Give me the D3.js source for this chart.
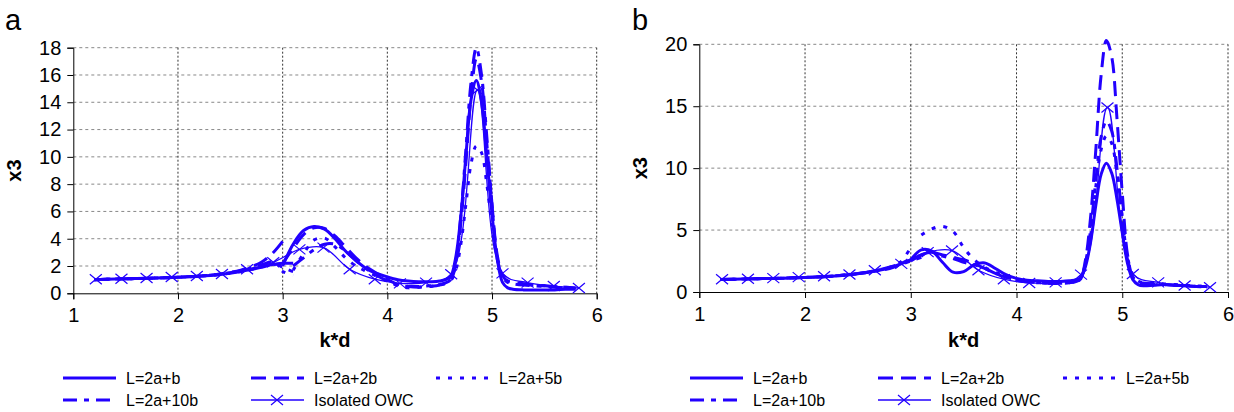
<!DOCTYPE html>
<html>
<head>
<meta charset="utf-8">
<script src="https://cdn.jsdelivr.net/npm/d3@7"></script>
<style>
  body { margin: 0; background: #fff; }
  svg text { font-family: "Liberation Sans", Arial, sans-serif; fill: #000; }
</style>
</head>
<body>
<svg id="chart" width="1234" height="412"></svg>
<script>
// DATA
// k*d grids: low branch and high branch of the computation
const kLow = [1.2, 1.4, 1.6, 1.8, 2.0, 2.2, 2.4, 2.6, 2.7, 2.8, 2.9, 3.0, 3.1];
const kHigh = [3.0, 3.1, 3.2, 3.3, 3.4, 3.5, 3.6, 3.7, 3.8, 3.9, 4.0, 4.1, 4.2, 4.3, 4.4, 4.5, 4.6, 4.65,
  4.7, 4.75, 4.8, 4.85, 4.9, 4.95, 5.0, 5.05, 5.1, 5.15, 5.2, 5.3, 5.4, 5.5, 5.6, 5.7, 5.8];

// isolated OWC (marker points, same in both panels)
const kIso = [1.215, 1.46, 1.70, 1.94, 2.18, 2.42, 2.66, 2.91, 3.16, 3.39, 3.64, 3.88, 4.12, 4.37, 4.61, 4.86, 5.10, 5.34, 5.59, 5.83];
const isoVals = [1.03, 1.07, 1.12, 1.2, 1.27, 1.41, 1.76, 2.27, 3.22, 3.35, 1.76, 1.03, 0.73, 0.78, 1.4, 14.9, 1.46, 0.78, 0.53, 0.39];

// panel a
const aL1Low = [1.0, 1.05, 1.08, 1.12, 1.18, 1.25, 1.38, 1.6, 1.75, 1.9, 2.1, 2.2, 2.2];
const aL1High = [2.0, 3.6, 4.6, 4.9, 4.7, 4.0, 3.1, 2.4, 1.8, 1.45, 1.2, 1.0, 0.9, 0.85, 0.85, 0.9, 1.2, 2.5,
  5.5, 10.0, 14.2, 15.6, 14.0, 10.0, 5.8, 2.5, 0.8, 0.4, 0.3, 0.25, 0.25, 0.25, 0.25, 0.3, 0.3];
const aL2Low = [1.0, 1.05, 1.08, 1.12, 1.18, 1.26, 1.42, 1.7, 1.95, 2.3, 2.9, 3.8, null];
const aL2High = [2.2, 3.3, 4.3, 4.8, 4.75, 4.2, 3.4, 2.6, 1.95, 1.45, 1.0, 0.65, 0.5, 0.45, 0.5, 0.6, 0.9, 2.0,
  5.0, 9.5, 14.5, 17.2, 15.5, 11.0, 6.5, 2.8, 1.3, 0.9, 0.8, 0.7, 0.6, 0.55, 0.5, 0.45, 0.4];
const aL5Low = [1.0, 1.05, 1.08, 1.12, 1.18, 1.25, 1.38, 1.6, 1.75, 1.95, 2.2, 1.6, 1.3];
const aL5High = [null, 1.7, 2.9, 3.9, 4.05, 3.4, 2.6, 2.0, 1.6, 1.25, 0.9, 0.55, 0.4, 0.45, 0.5, 0.6, 0.9, 1.6,
  3.5, 6.5, 9.5, 10.8, 10.3, 8.0, 5.0, 2.5, 1.3, 0.9, 0.75, 0.65, 0.6, 0.55, 0.5, 0.45, 0.4];
const aL10Low = [1.0, 1.05, 1.08, 1.12, 1.18, 1.25, 1.4, 1.65, 1.85, 2.1, 2.3, 1.9, 1.6];
const aL10High = [null, 2.0, 2.6, 3.2, 3.6, 3.6, 3.1, 2.4, 1.8, 1.3, 0.9, 0.6, 0.5, 0.5, 0.55, 0.65, 0.95, 2.2,
  5.5, 10.5, 15.5, 18.0, 16.0, 11.5, 6.5, 2.6, 1.2, 0.8, 0.7, 0.6, 0.55, 0.5, 0.45, 0.4, 0.35];

// panel b
const bL1Low = [1.0, 1.05, 1.08, 1.12, 1.18, 1.25, 1.38, 1.6, 1.75, 1.95, 2.25, 2.6, 3.0];
const bL1High = [2.6, 3.4, 3.3, 2.4, 1.6, 1.65, 2.2, 2.35, 1.9, 1.4, 1.1, 0.95, 0.9, 0.85, 0.85, 0.9, 1.1, 2.0,
  4.0, 7.0, 9.5, 10.4, 9.6, 7.5, 4.8, 2.3, 1.0, 0.6, 0.5, 0.55, 0.6, 0.55, 0.5, 0.45, 0.45];
const bL2Low = [1.0, 1.05, 1.08, 1.12, 1.18, 1.25, 1.4, 1.62, 1.8, 2.0, 2.3, 2.6, null];
const bL2High = [2.5, 3.0, 3.2, 3.0, 2.8, 2.6, 2.3, 1.9, 1.5, 1.2, 1.0, 0.85, 0.75, 0.7, 0.7, 0.75, 1.0, 2.5,
  6.0, 11.5, 17.5, 20.3, 19.0, 14.0, 8.0, 3.0, 1.2, 0.8, 0.7, 0.65, 0.6, 0.55, 0.5, 0.45, 0.4];
const bL5Low = [1.0, 1.05, 1.08, 1.12, 1.18, 1.25, 1.38, 1.6, 1.78, 2.0, 2.4, 3.6, null];
const bL5High = [null, 4.6, 5.1, 5.3, 4.9, 3.6, 2.6, 2.0, 1.6, 1.25, 1.0, 0.85, 0.8, 0.75, 0.75, 0.8, 1.0, 2.2,
  4.5, 8.5, 11.5, 12.6, 12.0, 9.5, 6.0, 2.8, 1.4, 0.9, 0.75, 0.7, 0.65, 0.6, 0.55, 0.5, 0.45];
const bL10Low = [1.0, 1.05, 1.08, 1.12, 1.18, 1.25, 1.4, 1.6, 1.75, 1.9, 2.2, 2.5, 2.8];
const bL10High = [null, 3.0, 3.2, 2.9, 2.7, 2.4, 2.2, 1.9, 1.5, 1.2, 0.95, 0.8, 0.75, 0.7, 0.7, 0.75, 1.0, 2.3,
  5.0, 9.0, 12.5, 13.8, 13.0, 10.0, 6.0, 2.6, 1.2, 0.8, 0.7, 0.65, 0.6, 0.55, 0.5, 0.45, 0.4];

const seriesNames = ["L=2a+b", "L=2a+2b", "L=2a+5b", "L=2a+10b", "Isolated OWC"];
const xTicks = [1, 2, 3, 4, 5, 6];
const yTicksA = [0, 2, 4, 6, 8, 10, 12, 14, 16, 18];
const yTicksB = [0, 5, 10, 15, 20];

// STYLE
const blue = "#2200ff";
const dashes = ["none", "15,8", "4,8", "14,7,5,7"];

const svg = d3.select("#chart");

function xMark(cx, cy) {
  return `M${cx - 6},${cy - 5}L${cx + 6},${cy + 5}M${cx - 6},${cy + 5}L${cx + 6},${cy - 5}`;
}

function drawPanel(opt) {
  const x = d3.scaleLinear().domain([1, 6]).range([opt.left, opt.right]);
  const y = d3.scaleLinear().domain([0, opt.yMax]).range([opt.bottom, opt.top]);
  const g = svg.append("g");

  // grid
  g.append("g").selectAll("line").data(opt.yTicks.slice(1)).enter().append("line")
    .attr("x1", opt.left).attr("x2", opt.right)
    .attr("y1", d => y(d)).attr("y2", d => y(d))
    .attr("stroke", "#888").attr("stroke-dasharray", "3,3");
  g.append("g").selectAll("line").data(xTicks.slice(1)).enter().append("line")
    .attr("x1", d => x(d)).attr("x2", d => x(d))
    .attr("y1", opt.top).attr("y2", opt.bottom)
    .attr("stroke", "#333").attr("stroke-dasharray", "2,2");

  // axes
  const xAxis = d3.axisBottom(x).tickValues(xTicks).tickSize(6).tickPadding(9).tickFormat(d3.format("d"));
  const yAxis = d3.axisLeft(y).tickValues(opt.yTicks).tickSize(6).tickPadding(6).tickFormat(d3.format("d"));
  const xg = g.append("g").attr("transform", `translate(0,${opt.bottom})`).call(xAxis);
  const yg = g.append("g").attr("transform", `translate(${opt.left},0)`).call(yAxis);
  [xg, yg].forEach(a => {
    a.select(".domain").attr("stroke", "#000");
    a.selectAll(".tick line").attr("stroke", "#000");
    a.selectAll("text").style("font-size", "20px").attr("fill", "#000");
  });

  // curves
  const line = d3.line()
    .defined(d => d[1] != null)
    .x(d => x(d[0])).y(d => y(d[1]))
    .curve(d3.curveCatmullRom.alpha(0.5));

  opt.series.forEach((s, i) => {
    [d3.zip(kLow, s.low), d3.zip(kHigh, s.high)].forEach(pts => {
      g.append("path")
        .attr("d", line(pts))
        .attr("fill", "none")
        .attr("stroke", blue)
        .attr("stroke-width", 3)
        .attr("stroke-dasharray", dashes[i]);
    });
  });

  const iso = d3.zip(kIso, isoVals);
  g.append("path").attr("d", line(iso)).attr("fill", "none")
    .attr("stroke", blue).attr("stroke-width", 1.3);
  g.append("g").selectAll("path").data(iso).enter().append("path")
    .attr("d", d => xMark(x(d[0]), y(d[1])))
    .attr("stroke", blue).attr("stroke-width", 1.2).attr("fill", "none");

  // titles
  g.append("text").attr("x", opt.letterX).attr("y", 30)
    .style("font-size", "29px").text(opt.letter);
  g.append("text")
    .attr("transform", `translate(${opt.yLabelX},${(opt.top + opt.bottom) / 2}) rotate(-90)`)
    .attr("text-anchor", "middle").attr("dy", "0.35em")
    .style("font-size", "20px").style("font-weight", "bold").text("x3");
  g.append("text").attr("x", (opt.left + opt.right) / 2).attr("y", 347)
    .attr("text-anchor", "middle")
    .style("font-size", "20px").style("font-weight", "bold").text("k*d");

  // legend
  const legendPos = [[0, 0], [188, 0], [373, 0], [0, 1], [188, 1]];
  seriesNames.forEach((name, i) => {
    const lx = opt.legendX + legendPos[i][0];
    const ly = 378 + legendPos[i][1] * 22;
    const lg = g.append("g");
    lg.append("line").attr("x1", lx).attr("x2", lx + 53).attr("y1", ly).attr("y2", ly)
      .attr("stroke", blue)
      .attr("stroke-width", i === 4 ? 1.3 : 3)
      .attr("stroke-dasharray", i < 4 ? dashes[i] : "none");
    if (i === 4) lg.append("path").attr("d", xMark(lx + 26, ly)).attr("stroke", blue).attr("stroke-width", 1.2);
    lg.append("text").attr("x", lx + 63).attr("y", ly).attr("dy", "0.35em")
      .style("font-size", "16px").text(name);
  });
}

drawPanel({
  left: 73.3, right: 596.7, top: 47.7, bottom: 293.3, yMax: 18, yTicks: yTicksA,
  letter: "a", letterX: 5, yLabelX: 14, legendX: 63,
  series: [
    { low: aL1Low, high: aL1High },
    { low: aL2Low, high: aL2High },
    { low: aL5Low, high: aL5High },
    { low: aL10Low, high: aL10High }
  ]
});

drawPanel({
  left: 699.3, right: 1228, top: 44.3, bottom: 292, yMax: 20, yTicks: yTicksB,
  letter: "b", letterX: 632, yLabelX: 640, legendX: 690,
  series: [
    { low: bL1Low, high: bL1High },
    { low: bL2Low, high: bL2High },
    { low: bL5Low, high: bL5High },
    { low: bL10Low, high: bL10High }
  ]
});
</script>
</body>
</html>
